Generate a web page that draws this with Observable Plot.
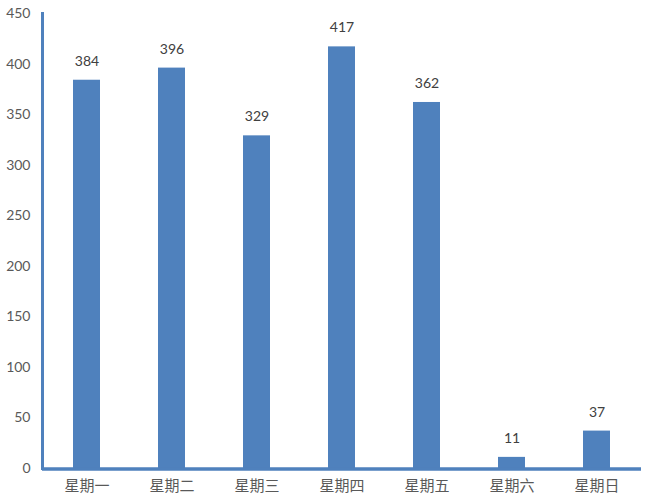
<!DOCTYPE html>
<html>
<head>
<meta charset="utf-8">
<script src="https://cdn.jsdelivr.net/npm/d3@7"></script>
<script src="https://cdn.jsdelivr.net/npm/@observablehq/plot@0.6"></script>
<style>
  body { margin: 0; background: #fff; }
  svg { font-family: Lato, "Noto Sans CJK SC", sans-serif; }
</style>
</head>
<body>
<div id="chart"></div>
<script>
const days = ["星期一", "星期二", "星期三", "星期四", "星期五", "星期六", "星期日"];
const counts = [384, 396, 329, 417, 362, 11, 37];
const yTicks = [0, 50, 100, 150, 200, 250, 300, 350, 400, 450];

const data = days.map((d, i) => ({day: d, value: counts[i]}));
const blue = "#4F81BD";

const plot = Plot.plot({
  width: 651,
  height: 501,
  marginLeft: 42,
  marginRight: 10,
  marginTop: 13,
  marginBottom: 33,
  style: {fontSize: "14px", color: "#595959", background: "#fff"},
  x: {domain: days, paddingInner: 0.685, paddingOuter: 0.3425, label: null},
  y: {domain: [0, 450], ticks: yTicks, label: null},
  marks: [
    Plot.barY(data, {x: "day", y: "value", fill: blue}),
    Plot.ruleY([0], {stroke: blue, strokeWidth: 3.5, dy: 0.5}),
    Plot.frame({anchor: "left", stroke: blue, strokeWidth: 3}),
    Plot.text(data, {x: "day", y: "value", text: d => String(d.value), dy: -19, fill: "#404040", fontSize: 14}),
    Plot.axisY({ticks: yTicks, tickSize: 0, tickPadding: 12, fontSize: 14, fill: "#595959"}),
    Plot.axisX({tickSize: 0, tickPadding: 12, fontSize: 15, fill: "#595959"})
  ]
});
document.getElementById("chart").append(plot);
</script>
</body>
</html>
